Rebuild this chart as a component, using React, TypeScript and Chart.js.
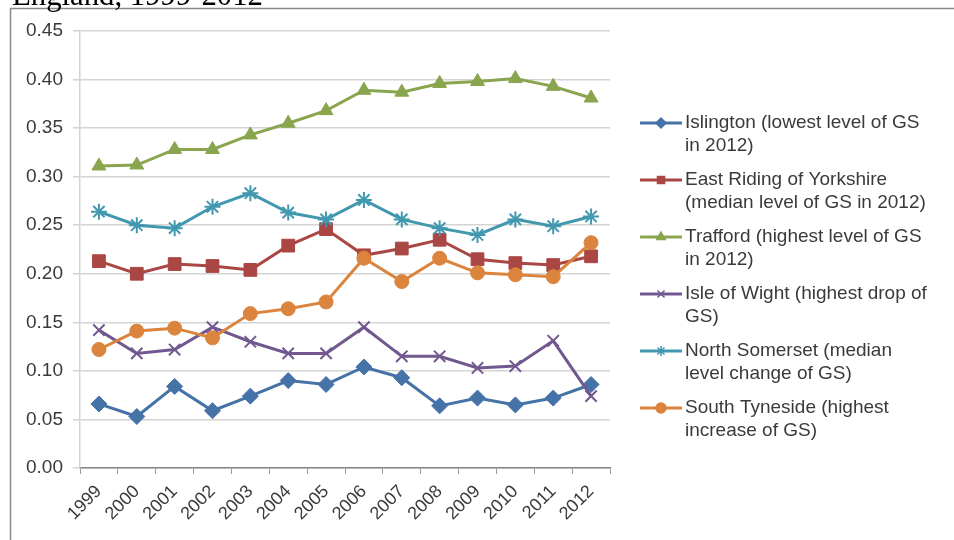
import React, { useEffect, useRef } from "react";
import { Chart, registerables } from "chart.js";
import { drawPoint } from "chart.js/helpers";

Chart.register(...registerables);

const years = ["1999", "2000", "2001", "2002", "2003", "2004", "2005", "2006", "2007", "2008", "2009", "2010", "2011", "2012"];

const islington = [0.066, 0.053, 0.084, 0.059, 0.074, 0.090, 0.086, 0.104, 0.093, 0.064, 0.072, 0.065, 0.072, 0.086];
const eastRiding = [0.213, 0.200, 0.210, 0.208, 0.204, 0.229, 0.246, 0.219, 0.226, 0.235, 0.215, 0.211, 0.209, 0.218];
const trafford = [0.311, 0.312, 0.328, 0.328, 0.343, 0.355, 0.368, 0.389, 0.387, 0.396, 0.398, 0.401, 0.393, 0.381];
const isleOfWight = [0.142, 0.118, 0.122, 0.145, 0.130, 0.118, 0.118, 0.145, 0.115, 0.115, 0.103, 0.105, 0.131, 0.074];
const northSomerset = [0.264, 0.250, 0.247, 0.269, 0.283, 0.263, 0.256, 0.276, 0.256, 0.247, 0.240, 0.256, 0.249, 0.259];
const southTyneside = [0.122, 0.141, 0.144, 0.134, 0.159, 0.164, 0.171, 0.216, 0.192, 0.216, 0.201, 0.199, 0.197, 0.232];

const seriesNames = [
  "Islington (lowest level of GS in 2012)",
  "East Riding of Yorkshire (median level of GS in 2012)",
  "Trafford (highest level of GS in 2012)",
  "Isle of Wight (highest drop of GS)",
  "North Somerset (median level change of GS)",
  "South Tyneside (highest increase of GS)",
];

const legendLines = [
  ["Islington (lowest level of GS", "in 2012)"],
  ["East Riding of Yorkshire", "(median level of GS in 2012)"],
  ["Trafford (highest level of GS", "in 2012)"],
  ["Isle of Wight (highest drop of", "GS)"],
  ["North Somerset (median", "level change of GS)"],
  ["South Tyneside (highest", "increase of GS)"],
];

const yTicks = [0, 0.05, 0.1, 0.15, 0.2, 0.25, 0.3, 0.35, 0.4, 0.45];

const titleText = "England, 1999-2012";

const colors = ["#4572A7", "#AA4643", "#89A54E", "#71588F", "#4198AF", "#DB843D"];
const pointStyles = ["rectRot", "rect", "triangle", "crossRot", "star", "circle"];
const pointRadii = [8, 9, 8, 8, 8, 7];

const SANS = "'Liberation Sans', Arial, sans-serif";

export default function App() {
  const ref = useRef<HTMLCanvasElement | null>(null);

  useEffect(() => {
    if (!ref.current) return;
    const values = [islington, eastRiding, trafford, isleOfWight, northSomerset, southTyneside];

    const decor = {
      id: "decor",
      afterDraw(chart: any) {
        const ctx = chart.ctx as CanvasRenderingContext2D;
        ctx.save();
        // frame
        ctx.strokeStyle = "#8a8a8a";
        ctx.lineWidth = 1.5;
        ctx.beginPath();
        ctx.moveTo(10.5, 545);
        ctx.lineTo(10.5, 8.5);
        ctx.lineTo(960, 8.5);
        ctx.stroke();
        // title (cut off at top)
        ctx.fillStyle = "#000";
        ctx.textBaseline = "alphabetic";
        ctx.textAlign = "left";
        ctx.font = `28px 'Liberation Serif', 'Times New Roman', serif`;
        const w = ctx.measureText(titleText).width;
        const size = (28 * 251) / w;
        ctx.font = `${size.toFixed(2)}px 'Liberation Serif', 'Times New Roman', serif`;
        ctx.fillText(titleText, 12, 5);
        // legend
        const firstY = 123;
        const entryH = 57;
        const lineH = 23;
        ctx.font = `19px ${SANS}`;
        ctx.textBaseline = "middle";
        legendLines.forEach((lines, i) => {
          const y = firstY + i * entryH;
          ctx.strokeStyle = colors[i];
          ctx.lineWidth = 3;
          ctx.beginPath();
          ctx.moveTo(640, y);
          ctx.lineTo(682, y);
          ctx.stroke();
          ctx.fillStyle = colors[i];
          ctx.strokeStyle = colors[i];
          ctx.lineWidth = 1.5;
          drawPoint(ctx, { pointStyle: pointStyles[i] as any, radius: 5, rotation: 0, borderWidth: 1.5 } as any, 661, y);
          ctx.fillStyle = "#3a3a3a";
          lines.forEach((t, j) => ctx.fillText(t, 685, y + j * lineH));
        });
        ctx.restore();
      },
    };

    const chart = new Chart(ref.current, {
      type: "line",
      data: {
        labels: years,
        datasets: values.map((d, i) => ({
          label: seriesNames[i],
          data: d,
          borderColor: colors[i],
          backgroundColor: colors[i],
          borderWidth: 3,
          pointStyle: pointStyles[i] as any,
          pointRadius: pointRadii[i],
          pointBorderWidth: pointStyles[i] === "crossRot" || pointStyles[i] === "star" ? 2 : 1,
          pointBackgroundColor: colors[i],
          pointBorderColor: colors[i],
          tension: 0,
          order: 5 - i,
        })),
      },
      options: {
        animation: false,
        responsive: false,
        maintainAspectRatio: false,
        layout: { padding: { left: 10, top: 31, right: 344, bottom: 0 } },
        plugins: { legend: { display: false }, tooltip: { enabled: false }, title: { display: false } },
        scales: {
          x: {
            offset: true,
            grid: { offset: true, drawOnChartArea: false, drawTicks: true, tickLength: 6, color: "#9a9a9a" },
            border: { color: "#868686", width: 1.5 },
            ticks: {
              autoSkip: false,
              maxRotation: 45,
              minRotation: 45,
              padding: 7,
              color: "#3a3a3a",
              font: { family: SANS, size: 18 },
            },
            afterFit: (s: any) => {
              s.height = 72;
            },
          },
          y: {
            min: 0,
            max: 0.45,
            afterBuildTicks: (s: any) => {
              s.ticks = yTicks.map((v) => ({ value: v }));
            },
            ticks: {
              padding: 10,
              color: "#3a3a3a",
              font: { family: SANS, size: 19 },
              callback: (v: any) => Number(v).toFixed(2),
            },
            grid: { color: "#d4d4d4", lineWidth: 1.5, tickLength: 7 },
            border: { color: "#d4d4d4", width: 1.5 },
            afterFit: (s: any) => {
              s.width = 70;
            },
          },
        },
      },
      plugins: [decor],
    });
    return () => chart.destroy();
  }, []);

  return (
    <div style={{ position: "fixed", left: 0, top: 0, width: 954, height: 540, background: "#fff", overflow: "hidden" }}>
      <canvas ref={ref} width={954} height={540} style={{ display: "block", width: 954, height: 540 }} />
    </div>
  );
}
